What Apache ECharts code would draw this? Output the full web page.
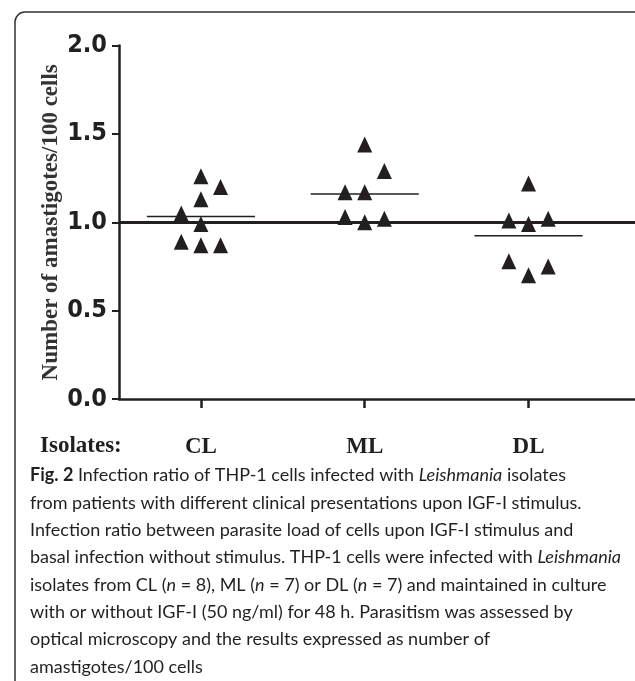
<!DOCTYPE html>
<html>
<head>
<meta charset="utf-8">
<script src="https://cdn.jsdelivr.net/npm/echarts@6/dist/echarts.min.js"></script>
<style>
  html, body { margin: 0; padding: 0; background: #fff; }
  #main { width: 635px; height: 681px; }
</style>
</head>
<body>
<div id="main"></div>
<script>
// groups on the x axis
const categories = ['CL', 'ML', 'DL'];
// infection ratio per isolate
const clValues = [1.26, 1.2, 1.13, 1.05, 0.99, 0.89, 0.87, 0.87];
const mlValues = [1.44, 1.29, 1.17, 1.17, 1.03, 1.0, 1.02];
const dlValues = [1.22, 1.01, 0.99, 1.02, 0.78, 0.75, 0.7];
// which column of the dot cluster each point sits in (-1 left, 0 middle, 1 right)
const clCols = [0, 1, 0, -1, 0, -1, 0, 1];
const mlCols = [0, 1, -1, 0, -1, 0, 1];
const dlCols = [0, -1, 0, 1, -1, 1, 0];
const yTicks = [0, 0.5, 1, 1.5, 2];
const refValue = 1.0;

const groups = [
  { vals: clValues, cols: clCols },
  { vals: mlValues, cols: mlCols },
  { vals: dlValues, cols: dlCols }
];

const ink = '#231f20';
const jitter = 0.12;   // column spacing in x-axis units
const halfBar = 0.33;  // half-length of the mean line

const series = [];
groups.forEach(function (g, i) {
  const cx = i + 1;
  series.push({
    type: 'scatter',
    symbol: 'triangle',
    symbolSize: [15, 16],
    itemStyle: { color: ink, opacity: 1 },
    silent: true,
    z: 3,
    data: g.vals.map(function (v, k) { return [cx + g.cols[k] * jitter, v]; })
  });
  const mean = g.vals.reduce(function (a, b) { return a + b; }, 0) / g.vals.length;
  series.push({
    type: 'line',
    symbol: 'none',
    silent: true,
    lineStyle: { color: ink, width: 1.6 },
    z: 2,
    data: [[cx - halfBar, mean], [cx + halfBar, mean]]
  });
});
// baseline at ratio 1
series[0].markLine = {
  silent: true,
  symbol: ['none', 'none'],
  label: { show: false },
  lineStyle: { color: ink, width: 3, type: 'solid' },
  data: [{ yAxis: refValue }]
};

const caption = [
  '{b|Fig. 2} Infection ratio of THP-1 cells infected with {i|Leishmania} isolates',
  'from patients with different clinical presentations upon IGF-I stimulus.',
  'Infection ratio between parasite load of cells upon IGF-I stimulus and',
  'basal infection without stimulus. THP-1 cells were infected with {i|Leishmania}',
  'isolates from CL ({i|n} = 8), ML ({i|n} = 7) or DL ({i|n} = 7) and maintained in culture',
  'with or without IGF-I (50 ng/ml) for 48 h. Parasitism was assessed by',
  'optical microscopy and the results expressed as number of',
  'amastigotes/100 cells'
].join('\n');

const capFont = 'Lato';
const capSize = 18;
const capLine = 27.3;

const chart = echarts.init(document.getElementById('main'));
chart.setOption({
  animation: false,
  backgroundColor: '#fff',
  title: {
    text: caption,
    left: 30,
    top: 462,
    padding: 0,
    textStyle: {
      fontFamily: capFont, fontSize: capSize, fontWeight: 'normal',
      color: ink, lineHeight: capLine,
      rich: {
        b: { fontFamily: capFont, fontSize: capSize, fontWeight: 'bold', color: ink, lineHeight: capLine },
        i: { fontFamily: capFont, fontSize: capSize, fontStyle: 'italic', color: ink, lineHeight: capLine }
      }
    }
  },
  graphic: [
    {
      type: 'rect',
      silent: true,
      z: -1,
      shape: { x: 15, y: 12, width: 640, height: 720, r: 10 },
      style: { fill: 'none', stroke: '#333', lineWidth: 1.5 }
    },
    {
      type: 'text',
      left: 40,
      top: 435,
      style: {
        text: 'Isolates:',
        fontFamily: 'Liberation Serif', fontWeight: 'bold', fontSize: 23,
        fill: ink
      }
    }
  ],
  grid: {
    left: 119, right: 0, top: 45.6, bottom: 282,
    containLabel: false, outerBoundsMode: 'none'
  },
  xAxis: {
    type: 'value',
    min: 0.5,
    max: 3.65,
    splitLine: { show: false },
    axisLine: { show: true, onZero: false, lineStyle: { color: ink, width: 2.5 } },
    axisTick: { show: true, customValues: [1, 2, 3], length: 9, lineStyle: { color: ink, width: 2.5 } },
    axisLabel: {
      customValues: [1, 2, 3],
      margin: 37,
      fontFamily: 'Liberation Serif', fontWeight: 'bold', fontSize: 23, color: ink,
      formatter: function (v) { return categories[Math.round(v) - 1] || ''; }
    }
  },
  yAxis: {
    type: 'value',
    min: 0,
    max: 2,
    interval: 0.5,
    name: 'Number of amastigotes/100 cells',
    nameLocation: 'middle',
    nameGap: 56,
    nameMoveOverlap: false,
    nameTextStyle: { fontFamily: 'Liberation Serif', fontWeight: 'bold', fontSize: 23, color: '#333' },
    splitLine: { show: false },
    axisLine: { show: true, lineStyle: { color: ink, width: 2.5 } },
    axisTick: { show: true, length: 7, lineStyle: { color: ink, width: 2 } },
    axisLabel: {
      customValues: yTicks,
      margin: 12,
      fontFamily: '"Liberation Sans Narrow", "DejaVu Sans Condensed", sans-serif',
      fontWeight: 'bold', fontSize: 25, color: ink,
      formatter: function (v) { return v.toFixed(1); }
    }
  },
  series: series
});
</script>
</body>
</html>
